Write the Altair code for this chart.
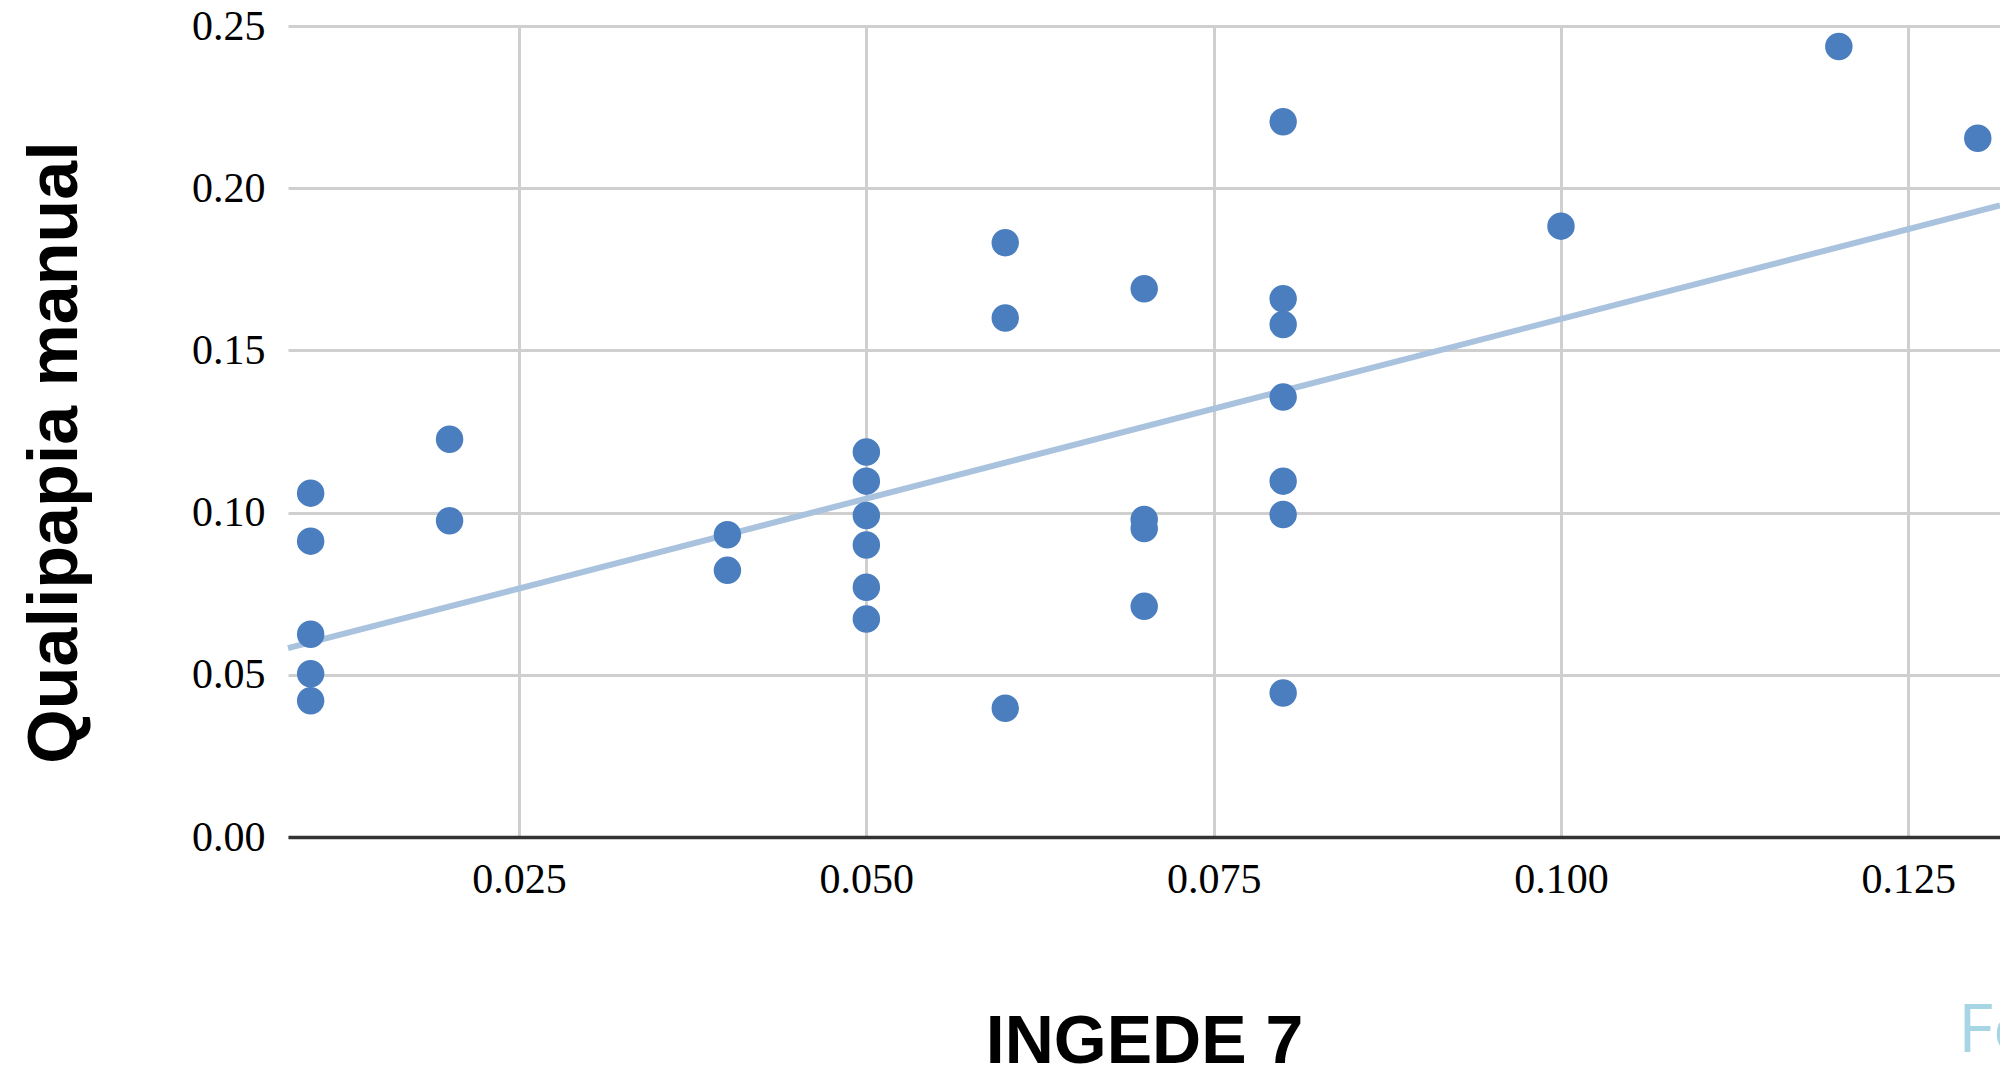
import altair as alt
import pandas as pd

# INGEDE 7 values (x) and Qualipapia manual values (y)
ingede = [0.01, 0.01, 0.01, 0.01, 0.01,
          0.02, 0.02,
          0.04, 0.04,
          0.05, 0.05, 0.05, 0.05, 0.05, 0.05,
          0.06, 0.06, 0.06,
          0.07, 0.07, 0.07, 0.07,
          0.08, 0.08, 0.08, 0.08, 0.08, 0.08, 0.08,
          0.10, 0.12, 0.13]
qualipapia = [0.106, 0.0912, 0.0625, 0.0503, 0.042,
              0.1226, 0.0975,
              0.0932, 0.0822,
              0.1187, 0.1097, 0.0991, 0.090, 0.077, 0.0672,
              0.1832, 0.160, 0.0397,
              0.169, 0.0979, 0.0951, 0.0711,
              0.2205, 0.1659, 0.158, 0.1356, 0.1097, 0.0994, 0.0444,
              0.1883, 0.2437, 0.2154]

# Trend line end points
trend_x = [0.00837, 0.1316]
trend_y = [0.0582, 0.1947]

x_ticks = [0.025, 0.050, 0.075, 0.100, 0.125]
y_ticks = [0.00, 0.05, 0.10, 0.15, 0.20, 0.25]
x_domain = [0.00837, 0.1316]
y_domain = [0.0, 0.25]

source_note = ["Fonte"]

points = pd.DataFrame({"x": ingede, "y": qualipapia})
trend = pd.DataFrame({"x": trend_x, "y": trend_y})
note = pd.DataFrame({"t": source_note})

serif = "Liberation Serif"
sans = "Liberation Sans"

x_scale = alt.Scale(domain=x_domain, nice=False, zero=False)
y_scale = alt.Scale(domain=y_domain, nice=False, zero=False)

x_axis = alt.Axis(
    values=x_ticks, format=".3f", labelFont=serif, labelFontSize=42,
    labelColor="black", labelPadding=22, ticks=False, tickSize=0,
    domain=True, domainColor="#333333", domainWidth=3.5,
    grid=True, gridColor="#cfcfcf", gridWidth=3, labelOverlap=False,
    labelFlush=False,
    title="INGEDE 7", titleFont=sans, titleFontSize=68, titleFontWeight="bold",
    titleColor="black", titleBaseline="alphabetic", titleY=225, titleX=856,
    titleAlign="center",
)
y_axis = alt.Axis(
    values=y_ticks, format=".2f", labelFont=serif, labelFontSize=42,
    labelColor="black", labelPadding=23, ticks=False, tickSize=0,
    domain=False, grid=True, gridColor="#cfcfcf", gridWidth=3,
    labelOverlap=False,
    title="Qualipapia manual", titleFont=sans, titleFontSize=70,
    titleFontWeight="bold", titleColor="black", titleAngle=270,
    titleBaseline="alphabetic", titleX=-212, titleY=426, titleAlign="center",
)

line = alt.Chart(trend).mark_line(color="#a9c2de", strokeWidth=6).encode(
    x=alt.X("x:Q", scale=x_scale, axis=x_axis),
    y=alt.Y("y:Q", scale=y_scale, axis=y_axis),
)

dots = alt.Chart(points).mark_circle(size=755, color="#4a7ebf", opacity=1).encode(
    x=alt.X("x:Q", scale=x_scale),
    y=alt.Y("y:Q", scale=y_scale),
)

fonte = alt.Chart(note).mark_text(
    align="left", baseline="alphabetic", font="Open Sans", fontSize=68,
    color="#a6d5e4",
).encode(x=alt.value(1670), y=alt.value(1026), text="t:N")

chart = (
    alt.layer(line, dots, fonte)
    .properties(
        width=1712, height=811,
        autosize=alt.AutoSizeParams(type="none"),
        padding={"left": 288, "top": 26, "right": 0, "bottom": 231},
        background="white",
    )
    .configure_view(stroke=None)
)

chart.save("out.html", embed_options={"renderer": "svg", "actions": False})
